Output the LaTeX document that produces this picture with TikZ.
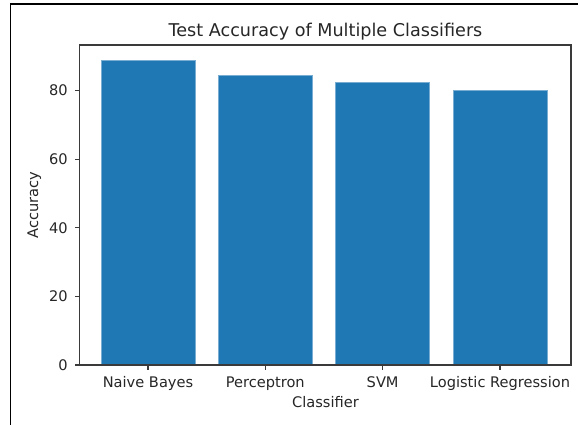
\documentclass[tikz,border=0pt]{standalone}
\usepackage{fontspec}
\setmainfont{DejaVu Sans}
\usepackage{tikz}
\definecolor{barblue}{HTML}{1F77B4}
\definecolor{spinegray}{HTML}{3A3A3A}
\newcommand{\ticksize}{\fontsize{14.6}{17}\selectfont}
\newcommand{\titlesize}{\fontsize{17.6}{20}\selectfont}

\begin{document}
\begin{tikzpicture}[x=1pt,y=1pt]
  % styles
  \tikzstyle{bar} = [fill=barblue,draw=barblue!60!white,line width=0.6pt];
  \tikzstyle{spine} = [draw=spinegray,line width=1.1pt];
  \tikzstyle{tick} = [draw=spinegray,line width=1.1pt];
  \tikzstyle{ticklabel} = [inner sep=0pt,text=black!85,font=\ticksize];
  \tikzstyle{axislabel} = [inner sep=0pt,text=black!85,font=\ticksize];

  \useasboundingbox (0,0) rectangle (578,425);

  % outer frame
  \draw[line width=1.5pt] (10.5,0) -- (10.5,421) -- (578,421);

  \begin{scope}[shift={(148,60)},x=117.33pt,y=3.43pt]
    % bars
    \path[bar] (-0.4,0) rectangle (0.4,88.7);
    \path[bar] (0.6,0) rectangle (1.4,84.5);
    \path[bar] (1.6,0) rectangle (2.4,82.3);
    \path[bar] (2.6,0) rectangle (3.4,80.2);

    % axes box
    \coordinate (ll) at (-0.58,0);
    \coordinate (ur) at (3.605,93.3);
    \path[spine] (ll) rectangle (ur);

    % y ticks
    \coordinate (y0) at (-0.58,0);
    \coordinate (y20) at (-0.58,20);
    \coordinate (y40) at (-0.58,40);
    \coordinate (y60) at (-0.58,60);
    \coordinate (y80) at (-0.58,80);
    \path[tick] (y0) -- ++(-5pt,0);
    \path[tick] (y20) -- ++(-5pt,0);
    \path[tick] (y40) -- ++(-5pt,0);
    \path[tick] (y60) -- ++(-5pt,0);
    \path[tick] (y80) -- ++(-5pt,0);
    \node[ticklabel,anchor=east] (l0) at ([xshift=-12pt]y0) {0};
    \node[ticklabel,anchor=east] (l20) at ([xshift=-12pt]y20) {20};
    \node[ticklabel,anchor=east] (l40) at ([xshift=-12pt]y40) {40};
    \node[ticklabel,anchor=east] (l60) at ([xshift=-12pt]y60) {60};
    \node[ticklabel,anchor=east] (l80) at ([xshift=-12pt]y80) {80};

    % x ticks
    \coordinate (nb) at (0,0);
    \coordinate (pc) at (1,0);
    \coordinate (svm) at (2,0);
    \coordinate (lr) at (3,0);
    \path[tick] (nb) -- ++(0,-5pt);
    \path[tick] (pc) -- ++(0,-5pt);
    \path[tick] (svm) -- ++(0,-5pt);
    \path[tick] (lr) -- ++(0,-5pt);
    \node[ticklabel,anchor=base] (lnb) at ([yshift=-22.5pt]nb) {Naive Bayes};
    \node[ticklabel,anchor=base] (lpc) at ([yshift=-22.5pt]pc) {Perceptron};
    \node[ticklabel,anchor=base] (lsvm) at ([yshift=-22.5pt]svm) {SVM};
    \node[ticklabel,anchor=base] (llr) at ([yshift=-22.5pt]lr) {Logistic Regression};
  \end{scope}

  % labels
  \node[axislabel,anchor=base] (xlabel) at (325.5,17) {Classifier};
  \node[axislabel,anchor=base,rotate=90] (ylabel) at (38,220) {Accuracy};
  \node[inner sep=0pt,anchor=base,text=black!85,font=\titlesize] (title) at (325.5,388) {Test Accuracy of Multiple Classifiers};
\end{tikzpicture}
\end{document}
